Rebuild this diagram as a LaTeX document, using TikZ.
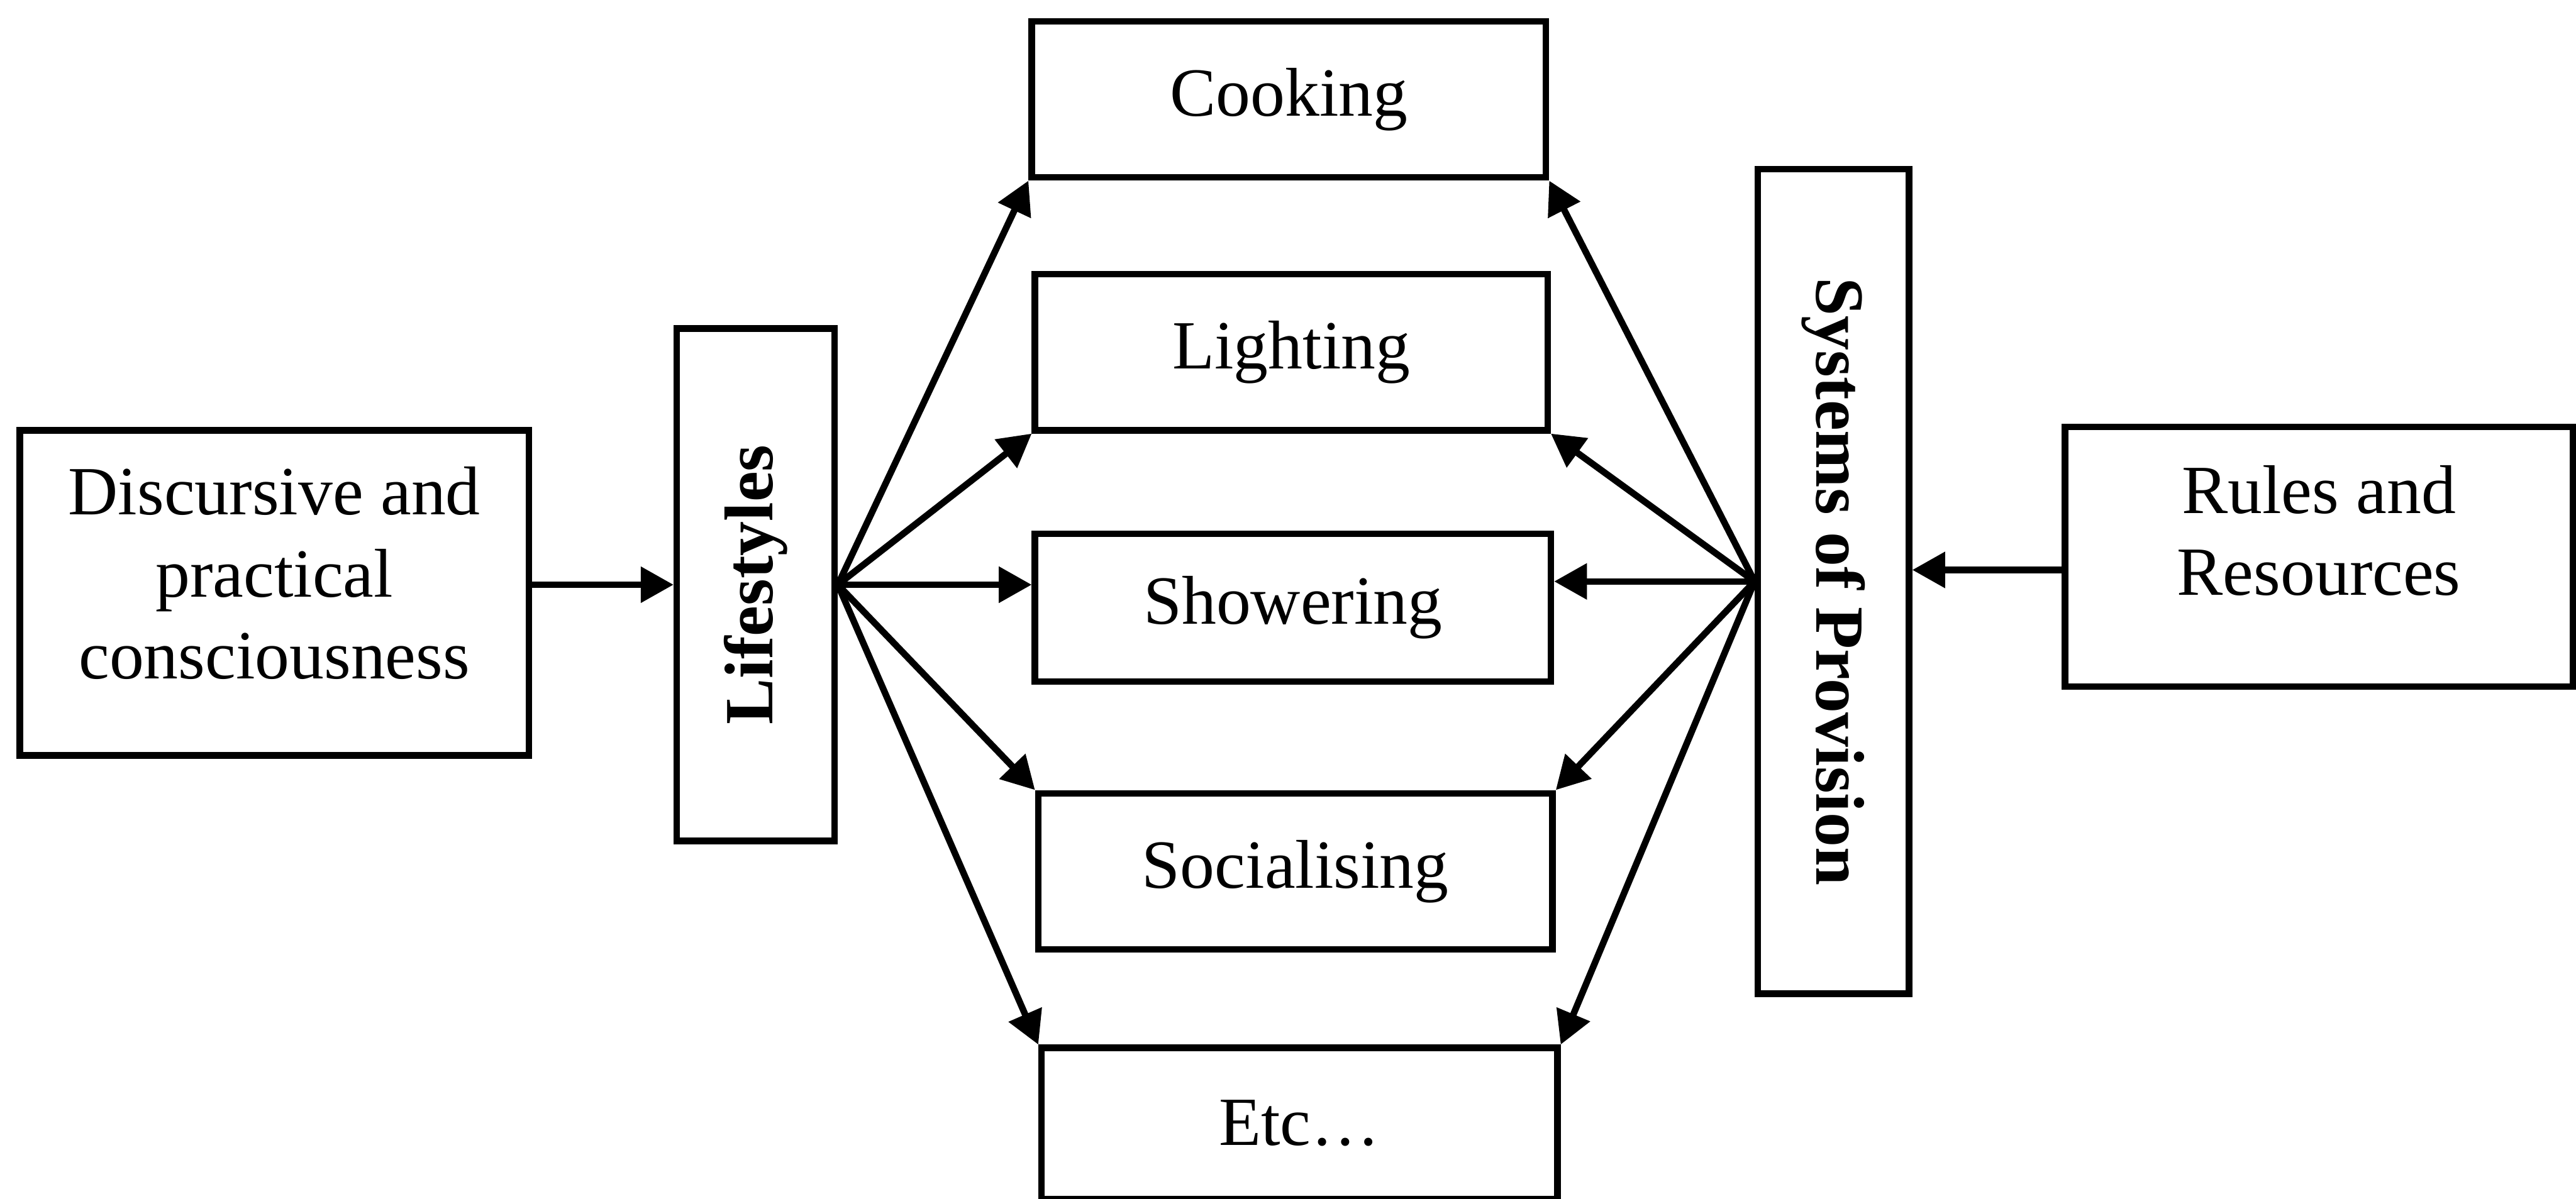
\documentclass[tikz,border=0pt]{standalone}
\usepackage{fontspec}
\usepackage{graphicx}
\setmainfont{Liberation Serif}
\usetikzlibrary{arrows.meta,calc}
\begin{document}
\begin{tikzpicture}[x=0.25pt,y=-0.25pt,
  box/.style={draw,line width=1pt,inner sep=0pt,align=center,
    font=\fontsize{10.5}{12.5}\selectfont},
  txt/.style={align=center,inner sep=0pt,font=\fontsize{10.5}{12.5}\selectfont},
  arr/.style={line width=1pt,-{Triangle[length=5pt,width=5.3pt]}},
]
\useasboundingbox (0,0) rectangle (1568,730);

% left side
\node[box,minimum width=77.5pt,minimum height=49.5pt,
  label={[txt,yshift=3pt]center:{Discursive and\\practical\\consciousness}}]
  (disc) at (167,361) {};
\node[box,minimum width=24pt,minimum height=78pt] (life) at (460,356)
  {\rotatebox{90}{\bfseries Lifestyles}};

% practices
\node[box,minimum width=78.25pt,minimum height=23.75pt] (cook) at (784.5,60.5) {Cooking};
\node[box,minimum width=78pt,minimum height=23.75pt] (light) at (786,214.5) {Lighting};
\node[box,minimum width=78.5pt,minimum height=22.5pt] (show) at (787,370) {Showering};
\node[box,minimum width=78.25pt,minimum height=23.75pt] (social) at (788.5,530.5) {Socialising};
\node[box,minimum width=78.5pt,minimum height=23pt] (etc) at (791,684) {Etc…};

% right side
\node[box,minimum width=23pt,minimum height=125.5pt] (sop) at (1116,354)
  {\rotatebox{-90}{\bfseries Systems of Provision}};
\node[box,minimum width=77.25pt,minimum height=39.5pt,
  label={[txt,yshift=4pt]center:{Rules and\\Resources}}]
  (rules) at (1411.5,339) {};

% connectors
\draw[arr] (life.west -| disc.east) -- (life.west);
\draw[arr] ([yshift=-2pt]rules.west) -- ([yshift=-2pt]rules.west -| sop.east);

\draw[arr] (life.east) -- (cook.south west);
\draw[arr] (life.east) -- (light.south west);
\draw[arr] (life.east) -- (show.west |- life.east);
\draw[arr] (life.east) -- (social.north west);
\draw[arr] (life.east) -- (etc.north west);

\draw[arr] (sop.west) -- (cook.south east);
\draw[arr] (sop.west) -- (light.south east);
\draw[arr] (sop.west) -- (show.east |- sop.west);
\draw[arr] (sop.west) -- (social.north east);
\draw[arr] (sop.west) -- (etc.north east);
\end{tikzpicture}
\end{document}
